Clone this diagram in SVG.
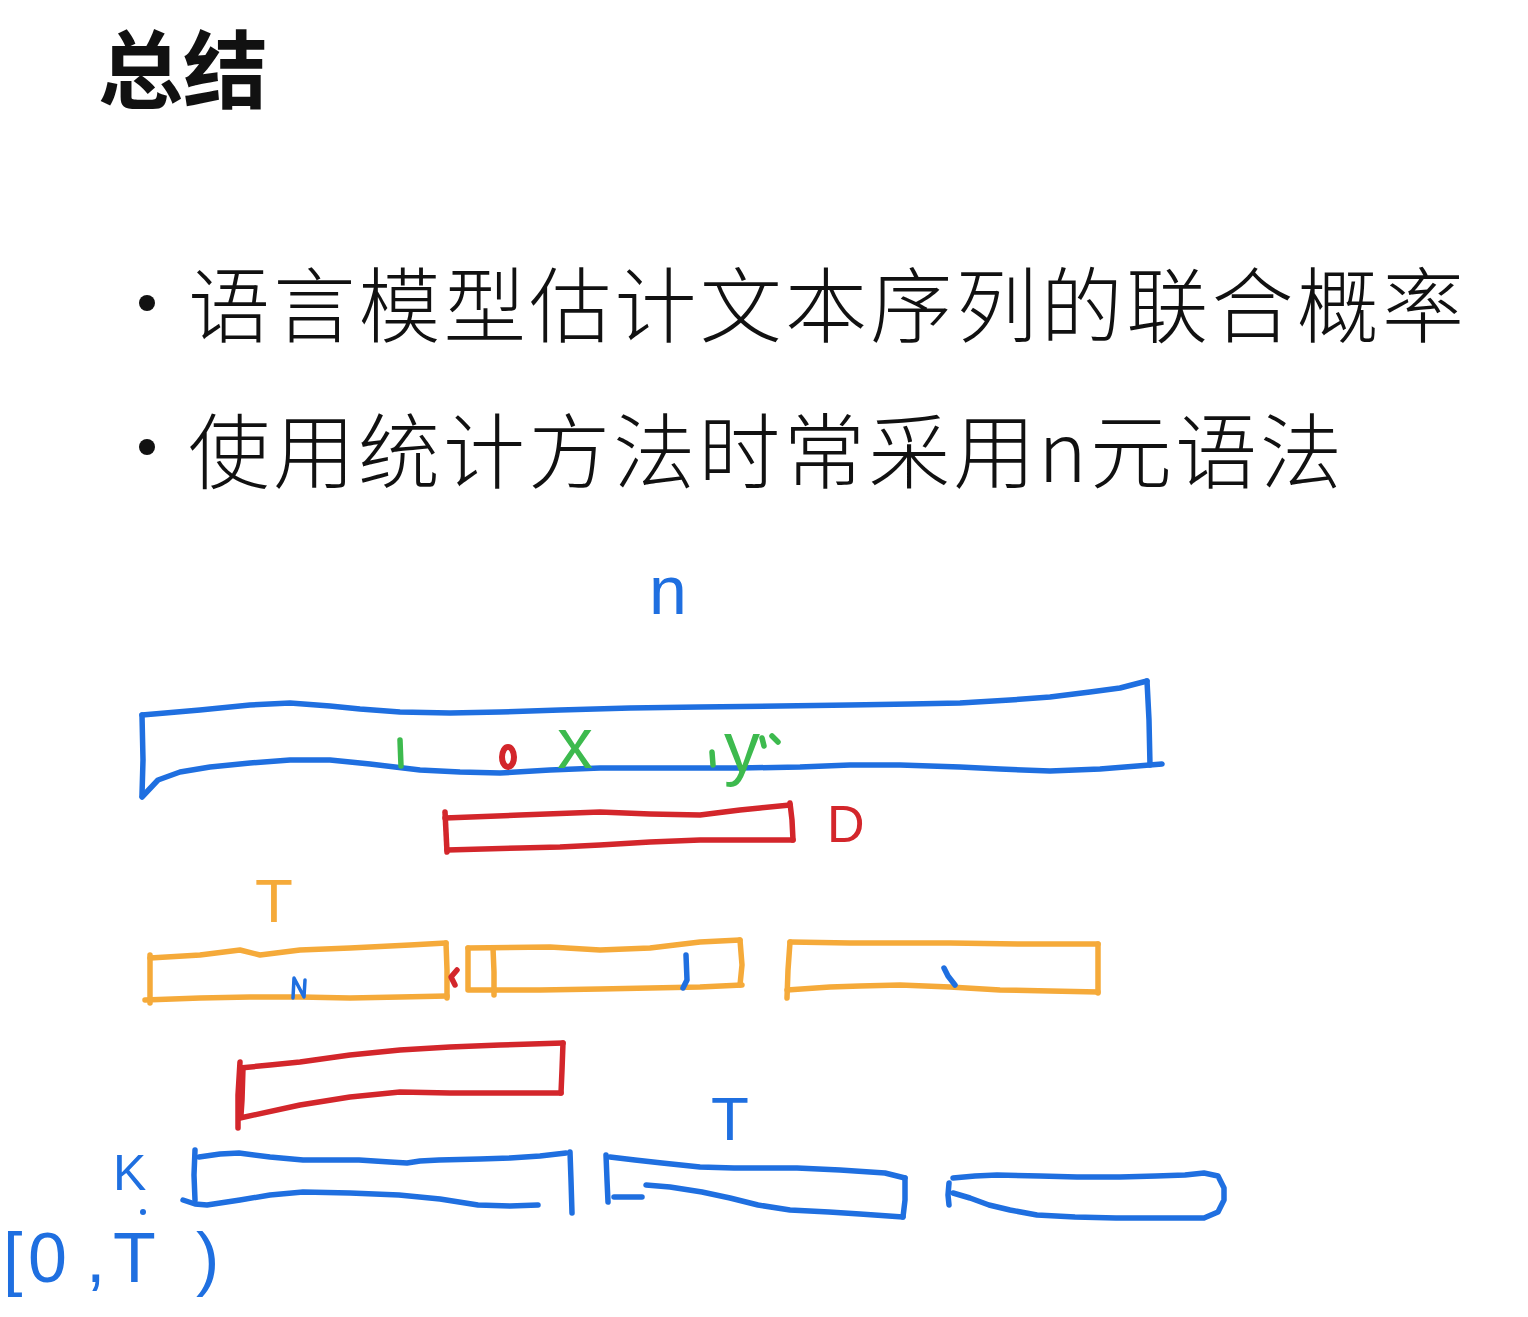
<svg xmlns="http://www.w3.org/2000/svg" width="1528" height="1317" viewBox="0 0 1528 1317">
<style>
.cjk{font-family:"Noto Sans CJK SC","Noto Sans",sans-serif;fill:#111}
.hand{font-family:"Liberation Sans","DejaVu Sans",sans-serif}
.s{fill:none;stroke-width:5.5;stroke-linecap:round;stroke-linejoin:round}
.blue{stroke:#1f6fe0}
.red{stroke:#d3262b}
.orange{stroke:#f5aa3a}
.green{stroke:#3dba4e}
.tb{fill:#1f6fe0}
.tr{fill:#d3262b}
.to{fill:#f5aa3a}
.tg{fill:#3dba4e}
</style>
<rect width="1528" height="1317" fill="#ffffff"/>

<g id="title">
<text class="cjk" x="98" y="102" font-size="85" font-weight="700">总结</text>
</g>

<g id="bullet1">
<circle cx="147" cy="303" r="8" fill="#111"/>
<text class="cjk" x="188" y="336" font-size="82" font-weight="300" textLength="1276" lengthAdjust="spacing">语言模型估计文本序列的联合概率</text>
</g>

<g id="bullet2">
<circle cx="147" cy="447" r="8" fill="#111"/>
<text class="cjk" x="188" y="482" font-size="82" font-weight="300" textLength="1154" lengthAdjust="spacing">使用统计方法时常采用n元语法</text>
</g>

<g id="label-n">
<text class="hand tb" x="649" y="614" font-size="68">n</text>
</g>

<g id="sequence-bar">
<path class="s blue" d="M142,715 L200,710 L250,705 L290,703 L330,706 L360,709 L400,712 L450,713 L500,712 L560,710 L630,708 L700,707 L780,706 L850,705 L910,704 L960,703 L1010,700 L1050,697 L1090,692 L1120,688 L1147,681"/>
<path class="s blue" d="M1147,681 L1149,720 L1150,765"/>
<path class="s blue" d="M1162,764 L1100,769 L1050,771 L1000,769 L960,767 L900,765 L850,765 L800,767 L740,768 L670,768 L600,768 L550,770 L500,773 L460,772 L420,770 L370,764 L330,760 L290,760 L250,763 L210,767 L180,772 L158,780 L142,797"/>
<path class="s blue" d="M142,715 L143,760 L142,795"/>
<path class="s green" d="M400,740 L401,766"/>
<ellipse cx="508" cy="757" rx="6" ry="10" fill="none" stroke="#d3262b" stroke-width="6"/>
<text class="hand tg" x="557" y="768" font-size="72">x</text>
<path class="s green" d="M712,752 L713,765"/>
<text class="hand tg" x="724" y="772" font-size="72">y</text>
<path class="s green" d="M762,738 L764,746 M772,736 L778,742"/>
</g>

<g id="window-D">
<path class="s red" d="M445,818 L520,815 L600,812 L650,814 L700,815 L740,810 L760,808 L790,805"/>
<path class="s red" d="M790,803 L792,820 L793,840"/>
<path class="s red" d="M793,840 L750,840 L700,840 L650,842 L600,845 L560,847 L520,848 L447,850"/>
<path class="s red" d="M445,812 L446,832 L447,852"/>
<text class="hand tr" x="827" y="842" font-size="52">D</text>
</g>

<g id="label-T-orange">
<text class="hand to" x="255" y="922" font-size="62">T</text>
</g>

<g id="segment-1">
<path class="s orange" d="M150,958 L200,955 L240,950 L260,955 L300,950 L350,948 L410,945 L446,943"/>
<path class="s orange" d="M446,943 L447,970 L447,998"/>
<path class="s orange" d="M447,996 L400,997 L350,998 L300,997 L250,997 L200,998 L145,1000"/>
<path class="s orange" d="M150,955 L150,980 L150,1003"/>
<path d="M293,998 L294,978 L304,997 L305,980" fill="none" stroke="#1f6fe0" stroke-width="3.5" stroke-linecap="round" stroke-linejoin="round"/>
<path class="s red" d="M457,970 L451,977 L455,985"/>
</g>

<g id="segment-2">
<path class="s orange" d="M468,948 L550,947 L600,950 L650,948 L700,942 L740,940"/>
<path class="s orange" d="M740,940 L742,965 L740,985"/>
<path class="s orange" d="M742,985 L700,987 L650,988 L600,989 L540,990 L470,990"/>
<path class="s orange" d="M468,948 L468,970 L468,990"/>
<path class="s orange" d="M493,948 L494,972 L494,995"/>
<path class="s blue" d="M686,955 L687,980 L683,988"/>
</g>

<g id="segment-3">
<path class="s orange" d="M790,942 L850,943 L900,943 L950,943 L1020,944 L1098,944"/>
<path class="s orange" d="M1098,944 L1098,970 L1098,993"/>
<path class="s orange" d="M1098,992 L1050,991 L1000,990 L950,987 L900,985 L860,986 L830,987 L787,990"/>
<path class="s orange" d="M790,942 L788,970 L787,998"/>
<path class="s blue" d="M944,968 L948,976 L955,985"/>
</g>

<g id="window-red">
<path class="s red" d="M240,1068 L270,1065 L300,1062 L350,1055 L400,1050 L450,1047 L500,1045 L563,1043"/>
<path class="s red" d="M563,1043 L562,1070 L561,1093"/>
<path class="s red" d="M561,1093 L500,1093 L450,1093 L400,1092 L350,1097 L300,1105 L240,1118"/>
<path class="s red" d="M240,1062 L238,1095 L238,1128"/>
<path class="s red" d="M243,1068 L242,1100 L241,1115"/>
</g>

<g id="label-T-blue">
<text class="hand tb" x="711" y="1140" font-size="62">T</text>
</g>

<g id="label-K">
<text class="hand tb" x="113" y="1190" font-size="50">K</text>
</g>

<g id="label-range">
<circle cx="143" cy="1212" r="3" fill="#1f6fe0"/>
<text class="hand tb" font-size="70" x="3 28 86 113 196" y="1282">[0,T)</text>
</g>

<g id="block-A">
<path class="s blue" d="M195,1150 L194,1175 L195,1200"/>
<path class="s blue" d="M199,1157 L220,1154 L239,1153 L270,1157 L303,1160 L330,1160 L359,1160 L390,1162 L407,1163 L420,1161 L439,1160 L480,1159 L510,1158 L540,1156 L566,1153"/>
<path class="s blue" d="M570,1152 L571,1180 L572,1213"/>
<path class="s blue" d="M183,1200 L195,1204 L207,1205 L240,1200 L270,1195 L303,1192 L350,1193 L399,1195 L440,1199 L478,1205 L510,1206 L538,1205"/>
</g>

<g id="block-B">
<path class="s blue" d="M606,1155 L607,1180 L608,1202"/>
<path class="s blue" d="M610,1157 L635,1160 L662,1163 L700,1167 L734,1168 L765,1168 L797,1168 L840,1170 L885,1173 L905,1178"/>
<path class="s blue" d="M905,1178 L905,1200 L903,1217"/>
<path class="s blue" d="M903,1217 L860,1214 L829,1212 L790,1210 L758,1205 L730,1198 L702,1192 L670,1187 L646,1185"/>
<path class="s blue" d="M614,1197 L642,1197"/>
</g>

<g id="block-C">
<path class="s blue" d="M953,1178 L975,1176 L997,1175 L1040,1176 L1077,1177 L1120,1177 L1156,1176 L1185,1175 L1204,1173 L1218,1176 L1224,1188 L1224,1200 L1218,1212 L1204,1218 L1160,1218 L1116,1218 L1075,1217 L1037,1215 L1010,1210 L989,1205 L970,1198 L953,1193"/>
<path class="s blue" d="M949,1183 L948,1195 L949,1205"/>
</g>
</svg>
